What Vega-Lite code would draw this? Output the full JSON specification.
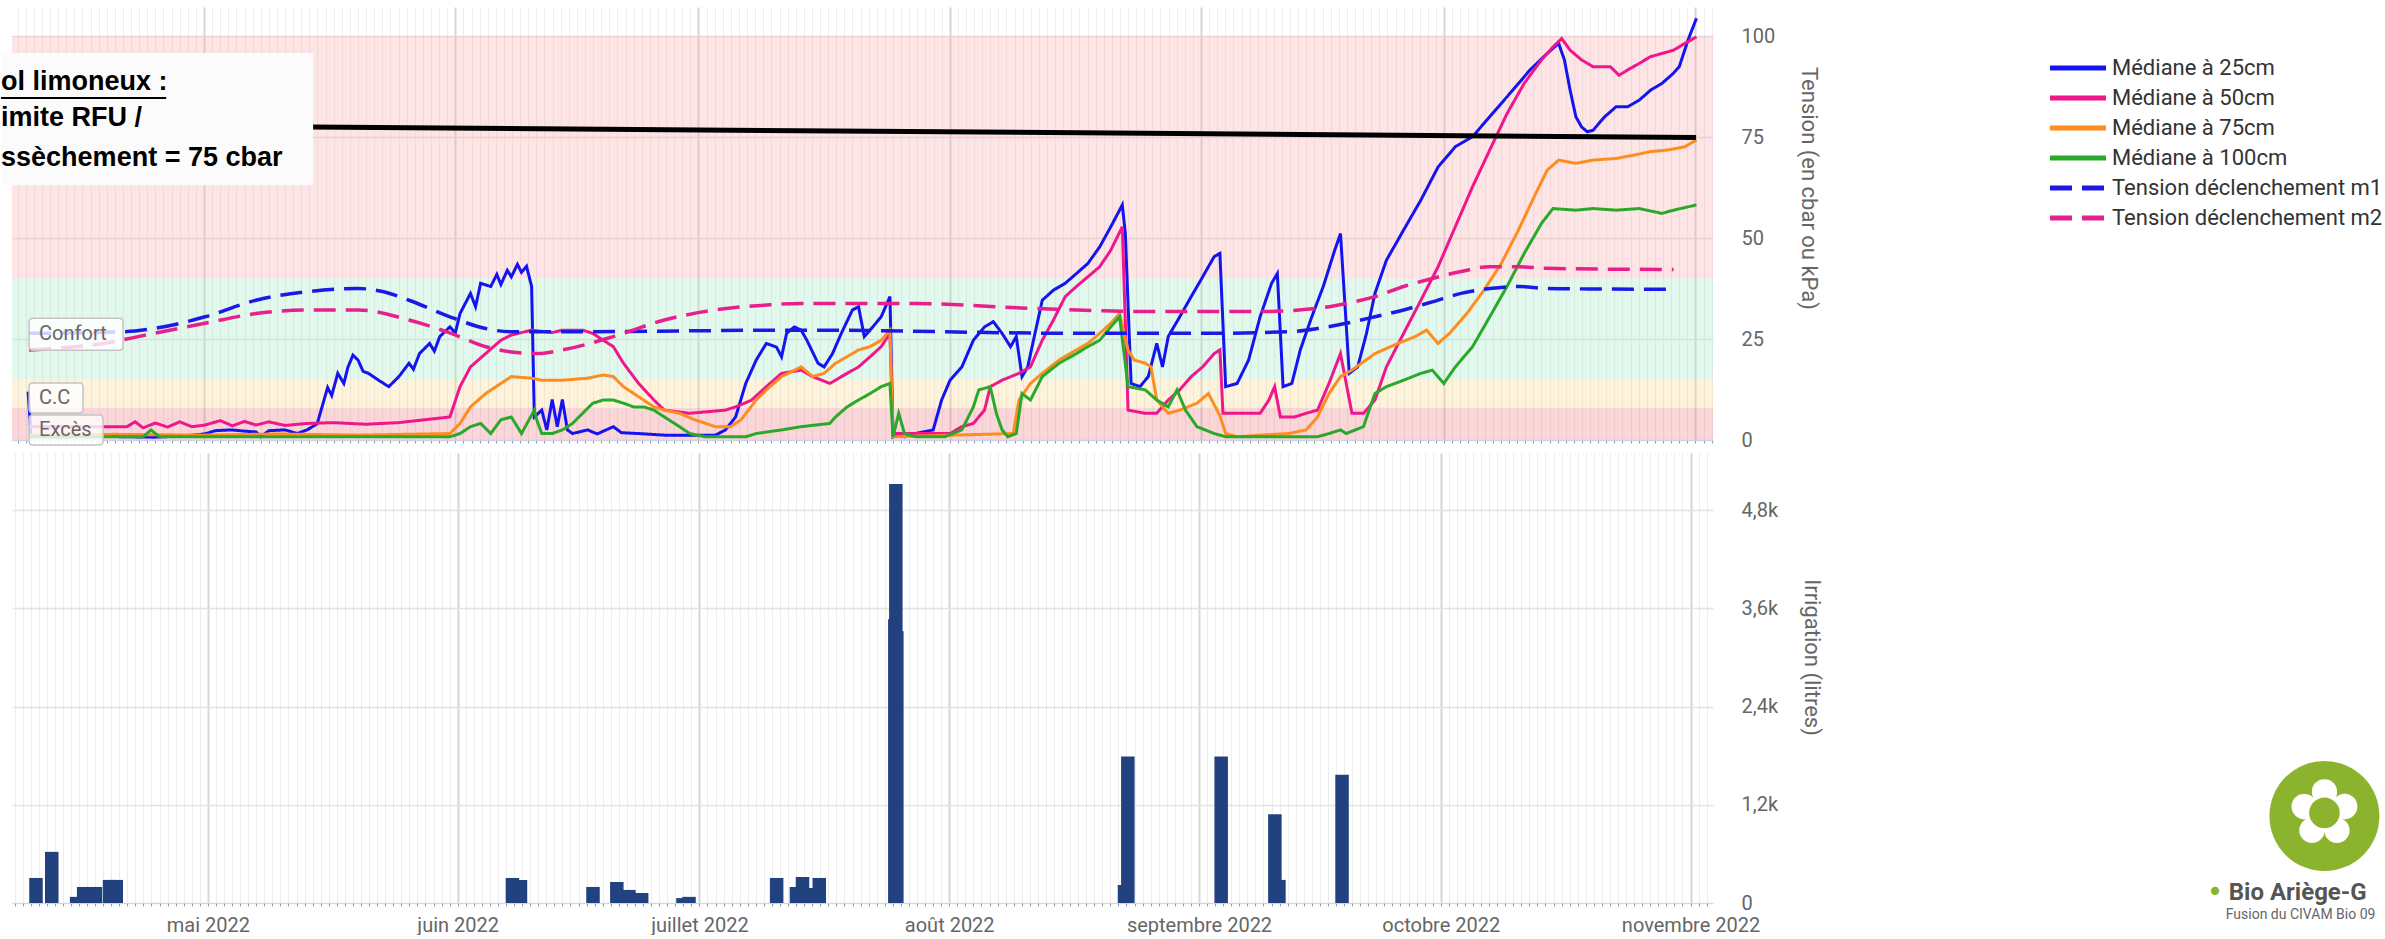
{
  "$schema": "https://vega.github.io/schema/vega-lite/v6.json",
  "padding": {"left": 0, "top": 7, "right": 0, "bottom": 0},
  "background": "white",
  "bounds": "flush",
  "spacing": 13,
  "config": {
    "view": {"stroke": null},
    "axis": {"labelFont": "Roboto", "titleFont": "Roboto", "labelColor": "#666666", "titleColor": "#666666", "titleFontWeight": "normal", "labelFontSize": 20, "titleFontSize": 22}
  },
  "datasets": {
    "med": [
      {"t":"2022-04-09T07:00","s":"Médiane à 25cm","v":12},
      {"t":"2022-04-09T16:00","s":"Médiane à 25cm","v":1},
      {"t":"2022-04-12T06:00","s":"Médiane à 25cm","v":0.8},
      {"t":"2022-04-18T13:00","s":"Médiane à 25cm","v":0.9},
      {"t":"2022-04-24T20:00","s":"Médiane à 25cm","v":0.7},
      {"t":"2022-04-28T12:00","s":"Médiane à 25cm","v":1},
      {"t":"2022-05-01T03:00","s":"Médiane à 25cm","v":1.5},
      {"t":"2022-05-02T09:00","s":"Médiane à 25cm","v":2.3},
      {"t":"2022-05-04T07:00","s":"Médiane à 25cm","v":2.5},
      {"t":"2022-05-06T00:00","s":"Médiane à 25cm","v":2.2},
      {"t":"2022-05-07T10:00","s":"Médiane à 25cm","v":2},
      {"t":"2022-05-08T00:00","s":"Médiane à 25cm","v":0.8},
      {"t":"2022-05-09T00:00","s":"Médiane à 25cm","v":2.3},
      {"t":"2022-05-11T00:00","s":"Médiane à 25cm","v":2.5},
      {"t":"2022-05-12T12:00","s":"Médiane à 25cm","v":1.6},
      {"t":"2022-05-13T17:00","s":"Médiane à 25cm","v":2.5},
      {"t":"2022-05-14T23:00","s":"Médiane à 25cm","v":4},
      {"t":"2022-05-16T06:00","s":"Médiane à 25cm","v":13},
      {"t":"2022-05-16T18:00","s":"Médiane à 25cm","v":11},
      {"t":"2022-05-17T12:00","s":"Médiane à 25cm","v":16.5},
      {"t":"2022-05-18T06:00","s":"Médiane à 25cm","v":14},
      {"t":"2022-05-18T18:00","s":"Médiane à 25cm","v":18},
      {"t":"2022-05-19T09:00","s":"Médiane à 25cm","v":21},
      {"t":"2022-05-20T00:00","s":"Médiane à 25cm","v":19.8},
      {"t":"2022-05-20T15:00","s":"Médiane à 25cm","v":17},
      {"t":"2022-05-21T07:00","s":"Médiane à 25cm","v":16.5},
      {"t":"2022-05-22T13:00","s":"Médiane à 25cm","v":14.8},
      {"t":"2022-05-23T19:00","s":"Médiane à 25cm","v":13.2},
      {"t":"2022-05-25T01:00","s":"Médiane à 25cm","v":15.7},
      {"t":"2022-05-26T07:00","s":"Médiane à 25cm","v":19},
      {"t":"2022-05-26T20:00","s":"Médiane à 25cm","v":17.5},
      {"t":"2022-05-27T14:00","s":"Médiane à 25cm","v":21.4},
      {"t":"2022-05-28T20:00","s":"Médiane à 25cm","v":23.9},
      {"t":"2022-05-29T10:00","s":"Médiane à 25cm","v":22},
      {"t":"2022-05-30T02:00","s":"Médiane à 25cm","v":25.6},
      {"t":"2022-05-31T08:00","s":"Médiane à 25cm","v":28},
      {"t":"2022-06-01T00:00","s":"Médiane à 25cm","v":26.5},
      {"t":"2022-06-01T14:00","s":"Médiane à 25cm","v":31.3},
      {"t":"2022-06-02T21:00","s":"Médiane à 25cm","v":36.3},
      {"t":"2022-06-03T12:00","s":"Médiane à 25cm","v":33},
      {"t":"2022-06-04T03:00","s":"Médiane à 25cm","v":38.8},
      {"t":"2022-06-05T09:00","s":"Médiane à 25cm","v":38},
      {"t":"2022-06-06T03:00","s":"Médiane à 25cm","v":41},
      {"t":"2022-06-06T15:00","s":"Médiane à 25cm","v":38.5},
      {"t":"2022-06-07T10:00","s":"Médiane à 25cm","v":42},
      {"t":"2022-06-07T22:00","s":"Médiane à 25cm","v":40.4},
      {"t":"2022-06-08T16:00","s":"Médiane à 25cm","v":43.5},
      {"t":"2022-06-09T04:00","s":"Médiane à 25cm","v":41.5},
      {"t":"2022-06-09T19:00","s":"Médiane à 25cm","v":43},
      {"t":"2022-06-10T10:00","s":"Médiane à 25cm","v":38},
      {"t":"2022-06-10T18:00","s":"Médiane à 25cm","v":5.7},
      {"t":"2022-06-11T16:00","s":"Médiane à 25cm","v":7.4},
      {"t":"2022-06-12T07:00","s":"Médiane à 25cm","v":2.5},
      {"t":"2022-06-12T23:00","s":"Médiane à 25cm","v":10},
      {"t":"2022-06-13T14:00","s":"Médiane à 25cm","v":3.3},
      {"t":"2022-06-14T05:00","s":"Médiane à 25cm","v":10},
      {"t":"2022-06-14T20:00","s":"Médiane à 25cm","v":2.5},
      {"t":"2022-06-15T11:00","s":"Médiane à 25cm","v":1.6},
      {"t":"2022-06-17T08:00","s":"Médiane à 25cm","v":2.5},
      {"t":"2022-06-18T12:00","s":"Médiane à 25cm","v":1.5},
      {"t":"2022-06-20T12:00","s":"Médiane à 25cm","v":3.3},
      {"t":"2022-06-21T12:00","s":"Médiane à 25cm","v":1.8},
      {"t":"2022-06-23T15:00","s":"Médiane à 25cm","v":1.6},
      {"t":"2022-06-26T19:00","s":"Médiane à 25cm","v":1.2},
      {"t":"2022-06-29T22:00","s":"Médiane à 25cm","v":1.2},
      {"t":"2022-07-03T02:00","s":"Médiane à 25cm","v":1.2},
      {"t":"2022-07-04T08:00","s":"Médiane à 25cm","v":2.5},
      {"t":"2022-07-05T14:00","s":"Médiane à 25cm","v":5.7},
      {"t":"2022-07-06T20:00","s":"Médiane à 25cm","v":14},
      {"t":"2022-07-08T03:00","s":"Médiane à 25cm","v":19.8},
      {"t":"2022-07-09T09:00","s":"Médiane à 25cm","v":23.9},
      {"t":"2022-07-10T15:00","s":"Médiane à 25cm","v":23},
      {"t":"2022-07-11T06:00","s":"Médiane à 25cm","v":20.6},
      {"t":"2022-07-11T21:00","s":"Médiane à 25cm","v":26.4},
      {"t":"2022-07-12T20:00","s":"Médiane à 25cm","v":28},
      {"t":"2022-07-13T16:00","s":"Médiane à 25cm","v":27.2},
      {"t":"2022-07-14T09:00","s":"Médiane à 25cm","v":24.7},
      {"t":"2022-07-15T18:00","s":"Médiane à 25cm","v":19},
      {"t":"2022-07-16T12:00","s":"Médiane à 25cm","v":18.1},
      {"t":"2022-07-17T13:00","s":"Médiane à 25cm","v":21.4},
      {"t":"2022-07-18T15:00","s":"Médiane à 25cm","v":26.4},
      {"t":"2022-07-20T00:00","s":"Médiane à 25cm","v":32.2},
      {"t":"2022-07-20T18:00","s":"Médiane à 25cm","v":33},
      {"t":"2022-07-21T11:00","s":"Médiane à 25cm","v":25.6},
      {"t":"2022-07-22T04:00","s":"Médiane à 25cm","v":27.2},
      {"t":"2022-07-23T13:00","s":"Médiane à 25cm","v":30.5},
      {"t":"2022-07-24T15:00","s":"Médiane à 25cm","v":35.5},
      {"t":"2022-07-25T00:00","s":"Médiane à 25cm","v":0.8},
      {"t":"2022-07-25T17:00","s":"Médiane à 25cm","v":1.6},
      {"t":"2022-07-26T10:00","s":"Médiane à 25cm","v":0.8},
      {"t":"2022-07-27T19:00","s":"Médiane à 25cm","v":1.6},
      {"t":"2022-07-29T23:00","s":"Médiane à 25cm","v":2.5},
      {"t":"2022-07-31T00:00","s":"Médiane à 25cm","v":9.9},
      {"t":"2022-08-01T01:00","s":"Médiane à 25cm","v":14.8},
      {"t":"2022-08-02T12:00","s":"Médiane à 25cm","v":18.1},
      {"t":"2022-08-03T22:00","s":"Médiane à 25cm","v":24.7},
      {"t":"2022-08-05T07:00","s":"Médiane à 25cm","v":28},
      {"t":"2022-08-06T09:00","s":"Médiane à 25cm","v":29.3},
      {"t":"2022-08-07T11:00","s":"Médiane à 25cm","v":26.4},
      {"t":"2022-08-08T12:00","s":"Médiane à 25cm","v":23.1},
      {"t":"2022-08-09T05:00","s":"Médiane à 25cm","v":25.6},
      {"t":"2022-08-09T22:00","s":"Médiane à 25cm","v":15.7},
      {"t":"2022-08-10T15:00","s":"Médiane à 25cm","v":18.1},
      {"t":"2022-08-11T08:00","s":"Médiane à 25cm","v":24.7},
      {"t":"2022-08-12T10:00","s":"Médiane à 25cm","v":34.6},
      {"t":"2022-08-13T19:00","s":"Médiane à 25cm","v":37.1},
      {"t":"2022-08-15T06:00","s":"Médiane à 25cm","v":38.8},
      {"t":"2022-08-16T15:00","s":"Médiane à 25cm","v":41.2},
      {"t":"2022-08-18T01:00","s":"Médiane à 25cm","v":43.7},
      {"t":"2022-08-19T12:00","s":"Médiane à 25cm","v":47.8},
      {"t":"2022-08-20T21:00","s":"Médiane à 25cm","v":52.8},
      {"t":"2022-08-22T07:00","s":"Médiane à 25cm","v":58.2},
      {"t":"2022-08-22T16:00","s":"Médiane à 25cm","v":51.1},
      {"t":"2022-08-23T09:00","s":"Médiane à 25cm","v":14},
      {"t":"2022-08-24T11:00","s":"Médiane à 25cm","v":13.2},
      {"t":"2022-08-25T12:00","s":"Médiane à 25cm","v":15.7},
      {"t":"2022-08-26T13:00","s":"Médiane à 25cm","v":23.9},
      {"t":"2022-08-27T06:00","s":"Médiane à 25cm","v":18.1},
      {"t":"2022-08-27T23:00","s":"Médiane à 25cm","v":25.6},
      {"t":"2022-08-29T09:00","s":"Médiane à 25cm","v":30.5},
      {"t":"2022-08-30T19:00","s":"Médiane à 25cm","v":35.5},
      {"t":"2022-09-01T05:00","s":"Médiane à 25cm","v":40.4},
      {"t":"2022-09-02T15:00","s":"Médiane à 25cm","v":45.4},
      {"t":"2022-09-03T08:00","s":"Médiane à 25cm","v":46.2},
      {"t":"2022-09-04T01:00","s":"Médiane à 25cm","v":13.2},
      {"t":"2022-09-05T11:00","s":"Médiane à 25cm","v":14},
      {"t":"2022-09-06T21:00","s":"Médiane à 25cm","v":19.8},
      {"t":"2022-09-08T07:00","s":"Médiane à 25cm","v":30.5},
      {"t":"2022-09-09T17:00","s":"Médiane à 25cm","v":38.8},
      {"t":"2022-09-10T10:00","s":"Médiane à 25cm","v":41.2},
      {"t":"2022-09-11T03:00","s":"Médiane à 25cm","v":13.2},
      {"t":"2022-09-12T05:00","s":"Médiane à 25cm","v":14},
      {"t":"2022-09-13T06:00","s":"Médiane à 25cm","v":22.3},
      {"t":"2022-09-14T16:00","s":"Médiane à 25cm","v":30.5},
      {"t":"2022-09-16T02:00","s":"Médiane à 25cm","v":38},
      {"t":"2022-09-17T12:00","s":"Médiane à 25cm","v":47},
      {"t":"2022-09-18T05:00","s":"Médiane à 25cm","v":51.1},
      {"t":"2022-09-19T07:00","s":"Médiane à 25cm","v":16.5},
      {"t":"2022-09-20T08:00","s":"Médiane à 25cm","v":18.1},
      {"t":"2022-09-21T10:00","s":"Médiane à 25cm","v":26.4},
      {"t":"2022-09-22T11:00","s":"Médiane à 25cm","v":36.3},
      {"t":"2022-09-23T21:00","s":"Médiane à 25cm","v":44.5},
      {"t":"2022-09-26T00:00","s":"Médiane à 25cm","v":52},
      {"t":"2022-09-28T03:00","s":"Médiane à 25cm","v":59.4},
      {"t":"2022-09-30T06:00","s":"Médiane à 25cm","v":67.6},
      {"t":"2022-10-02T09:00","s":"Médiane à 25cm","v":72.6},
      {"t":"2022-10-04T12:00","s":"Médiane à 25cm","v":75.1},
      {"t":"2022-10-05T22:00","s":"Médiane à 25cm","v":78.4},
      {"t":"2022-10-07T08:00","s":"Médiane à 25cm","v":81.7},
      {"t":"2022-10-09T11:00","s":"Médiane à 25cm","v":86.6},
      {"t":"2022-10-11T14:00","s":"Médiane à 25cm","v":91.6},
      {"t":"2022-10-13T17:00","s":"Médiane à 25cm","v":95.7},
      {"t":"2022-10-15T03:00","s":"Médiane à 25cm","v":98.2},
      {"t":"2022-10-15T20:00","s":"Médiane à 25cm","v":94.1},
      {"t":"2022-10-16T13:00","s":"Médiane à 25cm","v":86.6},
      {"t":"2022-10-17T06:00","s":"Médiane à 25cm","v":80},
      {"t":"2022-10-17T23:00","s":"Médiane à 25cm","v":77.5},
      {"t":"2022-10-18T16:00","s":"Médiane à 25cm","v":76.3},
      {"t":"2022-10-19T09:00","s":"Médiane à 25cm","v":76.7},
      {"t":"2022-10-20T19:00","s":"Médiane à 25cm","v":80},
      {"t":"2022-10-22T05:00","s":"Médiane à 25cm","v":82.5},
      {"t":"2022-10-23T15:00","s":"Médiane à 25cm","v":82.5},
      {"t":"2022-10-25T01:00","s":"Médiane à 25cm","v":84.1},
      {"t":"2022-10-26T11:00","s":"Médiane à 25cm","v":86.6},
      {"t":"2022-10-27T21:00","s":"Médiane à 25cm","v":88.3},
      {"t":"2022-10-29T07:00","s":"Médiane à 25cm","v":90.8},
      {"t":"2022-10-30T00:00","s":"Médiane à 25cm","v":92.4},
      {"t":"2022-10-31T02:00","s":"Médiane à 25cm","v":99},
      {"t":"2022-11-01T03:00","s":"Médiane à 25cm","v":104.4},

      {"t":"2022-04-09T10:00","s":"Médiane à 50cm","v":3.3},
      {"t":"2022-04-18T13:00","s":"Médiane à 50cm","v":3.3},
      {"t":"2022-04-21T12:00","s":"Médiane à 50cm","v":3.3},
      {"t":"2022-04-22T12:00","s":"Médiane à 50cm","v":4.5},
      {"t":"2022-04-23T12:00","s":"Médiane à 50cm","v":3},
      {"t":"2022-04-25T00:00","s":"Médiane à 50cm","v":4.2},
      {"t":"2022-04-26T12:00","s":"Médiane à 50cm","v":3.2},
      {"t":"2022-04-28T00:00","s":"Médiane à 50cm","v":4.5},
      {"t":"2022-04-29T12:00","s":"Médiane à 50cm","v":3.3},
      {"t":"2022-05-01T03:00","s":"Médiane à 50cm","v":3.7},
      {"t":"2022-05-03T00:00","s":"Médiane à 50cm","v":4.8},
      {"t":"2022-05-04T12:00","s":"Médiane à 50cm","v":3.5},
      {"t":"2022-05-06T00:00","s":"Médiane à 50cm","v":4.6},
      {"t":"2022-05-07T10:00","s":"Médiane à 50cm","v":3.7},
      {"t":"2022-05-09T00:00","s":"Médiane à 50cm","v":4.5},
      {"t":"2022-05-11T00:00","s":"Médiane à 50cm","v":3.6},
      {"t":"2022-05-13T17:00","s":"Médiane à 50cm","v":4.1},
      {"t":"2022-05-17T00:00","s":"Médiane à 50cm","v":4.3},
      {"t":"2022-05-21T00:00","s":"Médiane à 50cm","v":3.9},
      {"t":"2022-05-25T00:00","s":"Médiane à 50cm","v":4.3},
      {"t":"2022-05-31T08:00","s":"Médiane à 50cm","v":5.7},
      {"t":"2022-06-01T14:00","s":"Médiane à 50cm","v":13.2},
      {"t":"2022-06-02T21:00","s":"Médiane à 50cm","v":18.1},
      {"t":"2022-06-04T18:00","s":"Médiane à 50cm","v":21.4},
      {"t":"2022-06-06T15:00","s":"Médiane à 50cm","v":24.7},
      {"t":"2022-06-07T22:00","s":"Médiane à 50cm","v":26},
      {"t":"2022-06-10T10:00","s":"Médiane à 50cm","v":27.2},
      {"t":"2022-06-12T23:00","s":"Médiane à 50cm","v":26.6},
      {"t":"2022-06-14T05:00","s":"Médiane à 50cm","v":27.2},
      {"t":"2022-06-16T17:00","s":"Médiane à 50cm","v":27.2},
      {"t":"2022-06-17T23:00","s":"Médiane à 50cm","v":26.4},
      {"t":"2022-06-19T06:00","s":"Médiane à 50cm","v":24.7},
      {"t":"2022-06-20T12:00","s":"Médiane à 50cm","v":23.1},
      {"t":"2022-06-21T18:00","s":"Médiane à 50cm","v":19},
      {"t":"2022-06-23T15:00","s":"Médiane à 50cm","v":14},
      {"t":"2022-06-25T12:00","s":"Médiane à 50cm","v":9.9},
      {"t":"2022-06-26T19:00","s":"Médiane à 50cm","v":7.4},
      {"t":"2022-06-29T22:00","s":"Médiane à 50cm","v":6.6},
      {"t":"2022-07-04T08:00","s":"Médiane à 50cm","v":7.4},
      {"t":"2022-07-05T14:00","s":"Médiane à 50cm","v":8.2},
      {"t":"2022-07-07T12:00","s":"Médiane à 50cm","v":9.8},
      {"t":"2022-07-09T09:00","s":"Médiane à 50cm","v":13.2},
      {"t":"2022-07-11T06:00","s":"Médiane à 50cm","v":16.5},
      {"t":"2022-07-13T16:00","s":"Médiane à 50cm","v":17.3},
      {"t":"2022-07-15T02:00","s":"Médiane à 50cm","v":15.7},
      {"t":"2022-07-17T05:00","s":"Médiane à 50cm","v":14},
      {"t":"2022-07-19T08:00","s":"Médiane à 50cm","v":16.5},
      {"t":"2022-07-20T18:00","s":"Médiane à 50cm","v":18.1},
      {"t":"2022-07-22T04:00","s":"Médiane à 50cm","v":20.6},
      {"t":"2022-07-23T13:00","s":"Médiane à 50cm","v":23.1},
      {"t":"2022-07-24T15:00","s":"Médiane à 50cm","v":26.4},
      {"t":"2022-07-25T00:00","s":"Médiane à 50cm","v":1.6},
      {"t":"2022-08-01T01:00","s":"Médiane à 50cm","v":1.6},
      {"t":"2022-08-02T12:00","s":"Médiane à 50cm","v":3.3},
      {"t":"2022-08-03T22:00","s":"Médiane à 50cm","v":4.1},
      {"t":"2022-08-05T07:00","s":"Médiane à 50cm","v":7.4},
      {"t":"2022-08-06T00:00","s":"Médiane à 50cm","v":13.2},
      {"t":"2022-08-07T11:00","s":"Médiane à 50cm","v":14.8},
      {"t":"2022-08-09T13:00","s":"Médiane à 50cm","v":16.5},
      {"t":"2022-08-10T23:00","s":"Médiane à 50cm","v":18.1},
      {"t":"2022-08-12T10:00","s":"Médiane à 50cm","v":24.7},
      {"t":"2022-08-13T19:00","s":"Médiane à 50cm","v":29.7},
      {"t":"2022-08-15T06:00","s":"Médiane à 50cm","v":35.5},
      {"t":"2022-08-16T15:00","s":"Médiane à 50cm","v":38},
      {"t":"2022-08-18T01:00","s":"Médiane à 50cm","v":40.4},
      {"t":"2022-08-19T12:00","s":"Médiane à 50cm","v":42.9},
      {"t":"2022-08-20T21:00","s":"Médiane à 50cm","v":47},
      {"t":"2022-08-22T07:00","s":"Médiane à 50cm","v":52.8},
      {"t":"2022-08-23T00:00","s":"Médiane à 50cm","v":7.4},
      {"t":"2022-08-25T03:00","s":"Médiane à 50cm","v":6.6},
      {"t":"2022-08-26T13:00","s":"Médiane à 50cm","v":6.6},
      {"t":"2022-08-27T23:00","s":"Médiane à 50cm","v":9.9},
      {"t":"2022-08-29T09:00","s":"Médiane à 50cm","v":12.4},
      {"t":"2022-08-30T19:00","s":"Médiane à 50cm","v":15.7},
      {"t":"2022-09-01T05:00","s":"Médiane à 50cm","v":18.1},
      {"t":"2022-09-02T15:00","s":"Médiane à 50cm","v":21.4},
      {"t":"2022-09-03T08:00","s":"Médiane à 50cm","v":22.3},
      {"t":"2022-09-03T17:00","s":"Médiane à 50cm","v":6.6},
      {"t":"2022-09-08T07:00","s":"Médiane à 50cm","v":6.6},
      {"t":"2022-09-09T09:00","s":"Médiane à 50cm","v":9.9},
      {"t":"2022-09-10T02:00","s":"Médiane à 50cm","v":13.2},
      {"t":"2022-09-10T19:00","s":"Médiane à 50cm","v":5.7},
      {"t":"2022-09-12T13:00","s":"Médiane à 50cm","v":5.7},
      {"t":"2022-09-13T23:00","s":"Médiane à 50cm","v":6.6},
      {"t":"2022-09-15T09:00","s":"Médiane à 50cm","v":7.4},
      {"t":"2022-09-16T19:00","s":"Médiane à 50cm","v":14},
      {"t":"2022-09-18T05:00","s":"Médiane à 50cm","v":21.4},
      {"t":"2022-09-19T15:00","s":"Médiane à 50cm","v":6.6},
      {"t":"2022-09-21T01:00","s":"Médiane à 50cm","v":6.6},
      {"t":"2022-09-22T11:00","s":"Médiane à 50cm","v":9.9},
      {"t":"2022-09-23T21:00","s":"Médiane à 50cm","v":18.1},
      {"t":"2022-09-26T00:00","s":"Médiane à 50cm","v":26.4},
      {"t":"2022-09-28T03:00","s":"Médiane à 50cm","v":34.6},
      {"t":"2022-09-30T06:00","s":"Médiane à 50cm","v":42.9},
      {"t":"2022-10-02T09:00","s":"Médiane à 50cm","v":52.8},
      {"t":"2022-10-04T12:00","s":"Médiane à 50cm","v":62.7},
      {"t":"2022-10-06T15:00","s":"Médiane à 50cm","v":71.8},
      {"t":"2022-10-08T18:00","s":"Médiane à 50cm","v":80.8},
      {"t":"2022-10-10T21:00","s":"Médiane à 50cm","v":88.3},
      {"t":"2022-10-13T00:00","s":"Médiane à 50cm","v":94.1},
      {"t":"2022-10-14T10:00","s":"Médiane à 50cm","v":97.3},
      {"t":"2022-10-15T12:00","s":"Médiane à 50cm","v":99.4},
      {"t":"2022-10-16T13:00","s":"Médiane à 50cm","v":96.5},
      {"t":"2022-10-17T23:00","s":"Médiane à 50cm","v":94.1},
      {"t":"2022-10-19T09:00","s":"Médiane à 50cm","v":92.4},
      {"t":"2022-10-21T12:00","s":"Médiane à 50cm","v":92.4},
      {"t":"2022-10-22T14:00","s":"Médiane à 50cm","v":90.3},
      {"t":"2022-10-23T15:00","s":"Médiane à 50cm","v":91.6},
      {"t":"2022-10-25T01:00","s":"Médiane à 50cm","v":93.2},
      {"t":"2022-10-26T11:00","s":"Médiane à 50cm","v":94.9},
      {"t":"2022-10-27T21:00","s":"Médiane à 50cm","v":95.7},
      {"t":"2022-10-29T07:00","s":"Médiane à 50cm","v":96.5},
      {"t":"2022-10-30T17:00","s":"Médiane à 50cm","v":98.2},
      {"t":"2022-11-01T03:00","s":"Médiane à 50cm","v":99.8},

      {"t":"2022-04-09T10:00","s":"Médiane à 75cm","v":1.2},
      {"t":"2022-04-20T00:00","s":"Médiane à 75cm","v":1.4},
      {"t":"2022-05-01T00:00","s":"Médiane à 75cm","v":1.2},
      {"t":"2022-05-10T00:00","s":"Médiane à 75cm","v":1.5},
      {"t":"2022-05-20T00:00","s":"Médiane à 75cm","v":1.2},
      {"t":"2022-05-31T08:00","s":"Médiane à 75cm","v":1.6},
      {"t":"2022-06-01T14:00","s":"Médiane à 75cm","v":4.1},
      {"t":"2022-06-02T21:00","s":"Médiane à 75cm","v":8.2},
      {"t":"2022-06-04T18:00","s":"Médiane à 75cm","v":11.5},
      {"t":"2022-06-06T15:00","s":"Médiane à 75cm","v":14},
      {"t":"2022-06-07T22:00","s":"Médiane à 75cm","v":15.7},
      {"t":"2022-06-10T10:00","s":"Médiane à 75cm","v":15.3},
      {"t":"2022-06-11T16:00","s":"Médiane à 75cm","v":14.8},
      {"t":"2022-06-14T05:00","s":"Médiane à 75cm","v":14.8},
      {"t":"2022-06-17T08:00","s":"Médiane à 75cm","v":15.3},
      {"t":"2022-06-19T06:00","s":"Médiane à 75cm","v":16.1},
      {"t":"2022-06-20T12:00","s":"Médiane à 75cm","v":15.7},
      {"t":"2022-06-21T18:00","s":"Médiane à 75cm","v":13.2},
      {"t":"2022-06-23T15:00","s":"Médiane à 75cm","v":10.7},
      {"t":"2022-06-25T12:00","s":"Médiane à 75cm","v":8.2},
      {"t":"2022-06-26T19:00","s":"Médiane à 75cm","v":7.4},
      {"t":"2022-06-28T16:00","s":"Médiane à 75cm","v":6.6},
      {"t":"2022-06-30T13:00","s":"Médiane à 75cm","v":5},
      {"t":"2022-07-03T02:00","s":"Médiane à 75cm","v":3.3},
      {"t":"2022-07-04T23:00","s":"Médiane à 75cm","v":3.3},
      {"t":"2022-07-06T06:00","s":"Médiane à 75cm","v":5},
      {"t":"2022-07-08T03:00","s":"Médiane à 75cm","v":9.9},
      {"t":"2022-07-09T09:00","s":"Médiane à 75cm","v":12.4},
      {"t":"2022-07-11T06:00","s":"Médiane à 75cm","v":15.7},
      {"t":"2022-07-13T16:00","s":"Médiane à 75cm","v":18.1},
      {"t":"2022-07-15T02:00","s":"Médiane à 75cm","v":15.7},
      {"t":"2022-07-16T12:00","s":"Médiane à 75cm","v":16.5},
      {"t":"2022-07-17T22:00","s":"Médiane à 75cm","v":19},
      {"t":"2022-07-19T08:00","s":"Médiane à 75cm","v":20.6},
      {"t":"2022-07-20T18:00","s":"Médiane à 75cm","v":22.3},
      {"t":"2022-07-22T04:00","s":"Médiane à 75cm","v":23.1},
      {"t":"2022-07-23T13:00","s":"Médiane à 75cm","v":24.7},
      {"t":"2022-07-24T15:00","s":"Médiane à 75cm","v":27.2},
      {"t":"2022-07-25T00:00","s":"Médiane à 75cm","v":0.8},
      {"t":"2022-08-08T20:00","s":"Médiane à 75cm","v":1.6},
      {"t":"2022-08-09T13:00","s":"Médiane à 75cm","v":9.9},
      {"t":"2022-08-10T23:00","s":"Médiane à 75cm","v":14},
      {"t":"2022-08-12T10:00","s":"Médiane à 75cm","v":16.5},
      {"t":"2022-08-14T12:00","s":"Médiane à 75cm","v":19.8},
      {"t":"2022-08-16T15:00","s":"Médiane à 75cm","v":22.3},
      {"t":"2022-08-18T01:00","s":"Médiane à 75cm","v":23.9},
      {"t":"2022-08-19T12:00","s":"Médiane à 75cm","v":26.4},
      {"t":"2022-08-20T21:00","s":"Médiane à 75cm","v":28.9},
      {"t":"2022-08-21T23:00","s":"Médiane à 75cm","v":31.3},
      {"t":"2022-08-23T00:00","s":"Médiane à 75cm","v":22.3},
      {"t":"2022-08-23T18:00","s":"Médiane à 75cm","v":19.8},
      {"t":"2022-08-25T03:00","s":"Médiane à 75cm","v":19},
      {"t":"2022-08-25T20:00","s":"Médiane à 75cm","v":18.1},
      {"t":"2022-08-26T13:00","s":"Médiane à 75cm","v":9.9},
      {"t":"2022-08-27T23:00","s":"Médiane à 75cm","v":6.6},
      {"t":"2022-08-29T09:00","s":"Médiane à 75cm","v":7.4},
      {"t":"2022-08-31T12:00","s":"Médiane à 75cm","v":9.1},
      {"t":"2022-09-01T22:00","s":"Médiane à 75cm","v":11.5},
      {"t":"2022-09-03T08:00","s":"Médiane à 75cm","v":6},
      {"t":"2022-09-04T01:00","s":"Médiane à 75cm","v":1.6},
      {"t":"2022-09-05T11:00","s":"Médiane à 75cm","v":0.8},
      {"t":"2022-09-08T07:00","s":"Médiane à 75cm","v":1.2},
      {"t":"2022-09-11T20:00","s":"Médiane à 75cm","v":1.6},
      {"t":"2022-09-13T23:00","s":"Médiane à 75cm","v":2.5},
      {"t":"2022-09-15T09:00","s":"Médiane à 75cm","v":5.7},
      {"t":"2022-09-16T19:00","s":"Médiane à 75cm","v":11.5},
      {"t":"2022-09-18T05:00","s":"Médiane à 75cm","v":15.7},
      {"t":"2022-09-19T15:00","s":"Médiane à 75cm","v":17.3},
      {"t":"2022-09-22T11:00","s":"Médiane à 75cm","v":21.4},
      {"t":"2022-09-25T07:00","s":"Médiane à 75cm","v":23.9},
      {"t":"2022-09-27T10:00","s":"Médiane à 75cm","v":25.6},
      {"t":"2022-09-28T20:00","s":"Médiane à 75cm","v":27.2},
      {"t":"2022-09-30T06:00","s":"Médiane à 75cm","v":23.9},
      {"t":"2022-10-01T16:00","s":"Médiane à 75cm","v":26.4},
      {"t":"2022-10-03T19:00","s":"Médiane à 75cm","v":31.3},
      {"t":"2022-10-05T22:00","s":"Médiane à 75cm","v":37.1},
      {"t":"2022-10-08T01:00","s":"Médiane à 75cm","v":43.7},
      {"t":"2022-10-10T04:00","s":"Médiane à 75cm","v":52},
      {"t":"2022-10-12T07:00","s":"Médiane à 75cm","v":61},
      {"t":"2022-10-13T17:00","s":"Médiane à 75cm","v":66.8},
      {"t":"2022-10-15T03:00","s":"Médiane à 75cm","v":69.3},
      {"t":"2022-10-17T06:00","s":"Médiane à 75cm","v":68.5},
      {"t":"2022-10-19T09:00","s":"Médiane à 75cm","v":69.3},
      {"t":"2022-10-22T05:00","s":"Médiane à 75cm","v":69.7},
      {"t":"2022-10-24T08:00","s":"Médiane à 75cm","v":70.5},
      {"t":"2022-10-26T11:00","s":"Médiane à 75cm","v":71.4},
      {"t":"2022-10-28T14:00","s":"Médiane à 75cm","v":71.8},
      {"t":"2022-10-30T17:00","s":"Médiane à 75cm","v":72.6},
      {"t":"2022-11-01T03:00","s":"Médiane à 75cm","v":74.3},

      {"t":"2022-04-09T10:00","s":"Médiane à 100cm","v":0.8},
      {"t":"2022-04-23T12:00","s":"Médiane à 100cm","v":0.8},
      {"t":"2022-04-24T11:00","s":"Médiane à 100cm","v":2.5},
      {"t":"2022-04-25T12:00","s":"Médiane à 100cm","v":0.8},
      {"t":"2022-05-31T08:00","s":"Médiane à 100cm","v":0.8},
      {"t":"2022-06-01T14:00","s":"Médiane à 100cm","v":1.6},
      {"t":"2022-06-02T21:00","s":"Médiane à 100cm","v":3.3},
      {"t":"2022-06-04T03:00","s":"Médiane à 100cm","v":4.1},
      {"t":"2022-06-05T09:00","s":"Médiane à 100cm","v":1.6},
      {"t":"2022-06-06T15:00","s":"Médiane à 100cm","v":5},
      {"t":"2022-06-07T22:00","s":"Médiane à 100cm","v":5.7},
      {"t":"2022-06-09T04:00","s":"Médiane à 100cm","v":1.6},
      {"t":"2022-06-10T18:00","s":"Médiane à 100cm","v":7.4},
      {"t":"2022-06-11T01:00","s":"Médiane à 100cm","v":5},
      {"t":"2022-06-11T16:00","s":"Médiane à 100cm","v":1.6},
      {"t":"2022-06-12T23:00","s":"Médiane à 100cm","v":1.6},
      {"t":"2022-06-14T05:00","s":"Médiane à 100cm","v":2.5},
      {"t":"2022-06-15T11:00","s":"Médiane à 100cm","v":4.1},
      {"t":"2022-06-16T17:00","s":"Médiane à 100cm","v":6.6},
      {"t":"2022-06-17T23:00","s":"Médiane à 100cm","v":9.1},
      {"t":"2022-06-19T06:00","s":"Médiane à 100cm","v":9.9},
      {"t":"2022-06-20T12:00","s":"Médiane à 100cm","v":9.9},
      {"t":"2022-06-21T18:00","s":"Médiane à 100cm","v":9.1},
      {"t":"2022-06-23T00:00","s":"Médiane à 100cm","v":8.2},
      {"t":"2022-06-24T06:00","s":"Médiane à 100cm","v":8.2},
      {"t":"2022-06-25T12:00","s":"Médiane à 100cm","v":7.4},
      {"t":"2022-06-26T19:00","s":"Médiane à 100cm","v":5.7},
      {"t":"2022-06-28T16:00","s":"Médiane à 100cm","v":3.3},
      {"t":"2022-06-29T22:00","s":"Médiane à 100cm","v":1.6},
      {"t":"2022-07-01T20:00","s":"Médiane à 100cm","v":0.8},
      {"t":"2022-07-06T20:00","s":"Médiane à 100cm","v":0.8},
      {"t":"2022-07-08T03:00","s":"Médiane à 100cm","v":1.6},
      {"t":"2022-07-11T06:00","s":"Médiane à 100cm","v":2.5},
      {"t":"2022-07-13T16:00","s":"Médiane à 100cm","v":3.3},
      {"t":"2022-07-17T05:00","s":"Médiane à 100cm","v":4.1},
      {"t":"2022-07-17T22:00","s":"Médiane à 100cm","v":5.7},
      {"t":"2022-07-19T08:00","s":"Médiane à 100cm","v":8.2},
      {"t":"2022-07-20T18:00","s":"Médiane à 100cm","v":9.9},
      {"t":"2022-07-22T04:00","s":"Médiane à 100cm","v":11.5},
      {"t":"2022-07-23T13:00","s":"Médiane à 100cm","v":13.2},
      {"t":"2022-07-24T15:00","s":"Médiane à 100cm","v":14},
      {"t":"2022-07-25T00:00","s":"Médiane à 100cm","v":0.8},
      {"t":"2022-07-25T17:00","s":"Médiane à 100cm","v":6.6},
      {"t":"2022-07-26T10:00","s":"Médiane à 100cm","v":1.6},
      {"t":"2022-07-27T19:00","s":"Médiane à 100cm","v":0.8},
      {"t":"2022-07-31T09:00","s":"Médiane à 100cm","v":0.8},
      {"t":"2022-08-02T12:00","s":"Médiane à 100cm","v":2.5},
      {"t":"2022-08-03T22:00","s":"Médiane à 100cm","v":8.2},
      {"t":"2022-08-04T14:00","s":"Médiane à 100cm","v":12.4},
      {"t":"2022-08-06T00:00","s":"Médiane à 100cm","v":13.2},
      {"t":"2022-08-06T18:00","s":"Médiane à 100cm","v":6.6},
      {"t":"2022-08-07T11:00","s":"Médiane à 100cm","v":2.5},
      {"t":"2022-08-08T04:00","s":"Médiane à 100cm","v":0.8},
      {"t":"2022-08-09T05:00","s":"Médiane à 100cm","v":1.6},
      {"t":"2022-08-09T22:00","s":"Médiane à 100cm","v":11.5},
      {"t":"2022-08-10T23:00","s":"Médiane à 100cm","v":9.9},
      {"t":"2022-08-12T10:00","s":"Médiane à 100cm","v":15.7},
      {"t":"2022-08-14T12:00","s":"Médiane à 100cm","v":19},
      {"t":"2022-08-16T15:00","s":"Médiane à 100cm","v":21.4},
      {"t":"2022-08-18T01:00","s":"Médiane à 100cm","v":23.1},
      {"t":"2022-08-19T12:00","s":"Médiane à 100cm","v":24.7},
      {"t":"2022-08-20T21:00","s":"Médiane à 100cm","v":28},
      {"t":"2022-08-21T23:00","s":"Médiane à 100cm","v":30.5},
      {"t":"2022-08-23T00:00","s":"Médiane à 100cm","v":13.2},
      {"t":"2022-08-25T03:00","s":"Médiane à 100cm","v":12.4},
      {"t":"2022-08-26T13:00","s":"Médiane à 100cm","v":9.9},
      {"t":"2022-08-27T23:00","s":"Médiane à 100cm","v":8.2},
      {"t":"2022-08-29T01:00","s":"Médiane à 100cm","v":12.4},
      {"t":"2022-08-30T02:00","s":"Médiane à 100cm","v":7.4},
      {"t":"2022-08-31T12:00","s":"Médiane à 100cm","v":3.3},
      {"t":"2022-09-02T15:00","s":"Médiane à 100cm","v":1.6},
      {"t":"2022-09-04T01:00","s":"Médiane à 100cm","v":0.8},
      {"t":"2022-09-15T09:00","s":"Médiane à 100cm","v":0.8},
      {"t":"2022-09-16T19:00","s":"Médiane à 100cm","v":1.6},
      {"t":"2022-09-18T05:00","s":"Médiane à 100cm","v":2.5},
      {"t":"2022-09-18T22:00","s":"Médiane à 100cm","v":1.6},
      {"t":"2022-09-21T01:00","s":"Médiane à 100cm","v":3.3},
      {"t":"2022-09-22T11:00","s":"Médiane à 100cm","v":11.5},
      {"t":"2022-09-23T21:00","s":"Médiane à 100cm","v":13.2},
      {"t":"2022-09-26T00:00","s":"Médiane à 100cm","v":14.8},
      {"t":"2022-09-28T03:00","s":"Médiane à 100cm","v":16.5},
      {"t":"2022-09-29T13:00","s":"Médiane à 100cm","v":17.3},
      {"t":"2022-09-30T23:00","s":"Médiane à 100cm","v":14},
      {"t":"2022-10-02T09:00","s":"Médiane à 100cm","v":18.1},
      {"t":"2022-10-04T12:00","s":"Médiane à 100cm","v":23.1},
      {"t":"2022-10-06T15:00","s":"Médiane à 100cm","v":30.5},
      {"t":"2022-10-08T18:00","s":"Médiane à 100cm","v":38},
      {"t":"2022-10-10T21:00","s":"Médiane à 100cm","v":46.2},
      {"t":"2022-10-13T00:00","s":"Médiane à 100cm","v":53.6},
      {"t":"2022-10-14T10:00","s":"Médiane à 100cm","v":57.3},
      {"t":"2022-10-17T06:00","s":"Médiane à 100cm","v":56.9},
      {"t":"2022-10-19T09:00","s":"Médiane à 100cm","v":57.3},
      {"t":"2022-10-22T05:00","s":"Médiane à 100cm","v":56.9},
      {"t":"2022-10-25T01:00","s":"Médiane à 100cm","v":57.3},
      {"t":"2022-10-27T21:00","s":"Médiane à 100cm","v":56.1},
      {"t":"2022-10-29T07:00","s":"Médiane à 100cm","v":56.9},
      {"t":"2022-11-01T03:00","s":"Médiane à 100cm","v":58.2}
    ],
    "decl": [
      {"t":"2022-04-09T10:00","s":"Tension déclenchement m1","v":26.4},
      {"t":"2022-04-21T02:00","s":"Tension déclenchement m1","v":26.8},
      {"t":"2022-04-24T20:00","s":"Tension déclenchement m1","v":27.6},
      {"t":"2022-05-01T03:00","s":"Tension déclenchement m1","v":30.5},
      {"t":"2022-05-07T10:00","s":"Tension déclenchement m1","v":34.6},
      {"t":"2022-05-13T17:00","s":"Tension déclenchement m1","v":36.7},
      {"t":"2022-05-20T00:00","s":"Tension déclenchement m1","v":37.5},
      {"t":"2022-05-23T04:00","s":"Tension déclenchement m1","v":36.7},
      {"t":"2022-05-26T07:00","s":"Tension déclenchement m1","v":34.6},
      {"t":"2022-05-31T08:00","s":"Tension déclenchement m1","v":30.5},
      {"t":"2022-06-04T18:00","s":"Tension déclenchement m1","v":27.6},
      {"t":"2022-06-07T22:00","s":"Tension déclenchement m1","v":26.8},
      {"t":"2022-06-14T05:00","s":"Tension déclenchement m1","v":26.8},
      {"t":"2022-07-13T16:00","s":"Tension déclenchement m1","v":27.2},
      {"t":"2022-08-18T01:00","s":"Tension déclenchement m1","v":26.4},
      {"t":"2022-09-01T05:00","s":"Tension déclenchement m1","v":26.4},
      {"t":"2022-09-11T20:00","s":"Tension déclenchement m1","v":26.8},
      {"t":"2022-09-15T09:00","s":"Tension déclenchement m1","v":27.6},
      {"t":"2022-09-18T22:00","s":"Tension déclenchement m1","v":28.9},
      {"t":"2022-09-22T11:00","s":"Tension déclenchement m1","v":30.5},
      {"t":"2022-09-26T00:00","s":"Tension déclenchement m1","v":32.2},
      {"t":"2022-09-29T13:00","s":"Tension déclenchement m1","v":34.2},
      {"t":"2022-10-03T02:00","s":"Tension déclenchement m1","v":36.3},
      {"t":"2022-10-06T15:00","s":"Tension déclenchement m1","v":37.5},
      {"t":"2022-10-10T04:00","s":"Tension déclenchement m1","v":38},
      {"t":"2022-10-13T17:00","s":"Tension déclenchement m1","v":37.5},
      {"t":"2022-10-29T07:00","s":"Tension déclenchement m1","v":37.3},

      {"t":"2022-04-09T10:00","s":"Tension déclenchement m2","v":22.3},
      {"t":"2022-04-18T13:00","s":"Tension déclenchement m2","v":23.9},
      {"t":"2022-04-24T20:00","s":"Tension déclenchement m2","v":26.4},
      {"t":"2022-05-01T03:00","s":"Tension déclenchement m2","v":28.9},
      {"t":"2022-05-07T10:00","s":"Tension déclenchement m2","v":31.3},
      {"t":"2022-05-13T17:00","s":"Tension déclenchement m2","v":32.2},
      {"t":"2022-05-20T00:00","s":"Tension déclenchement m2","v":32.2},
      {"t":"2022-05-26T07:00","s":"Tension déclenchement m2","v":29.7},
      {"t":"2022-05-31T08:00","s":"Tension déclenchement m2","v":26.5},
      {"t":"2022-06-04T18:00","s":"Tension déclenchement m2","v":23.1},
      {"t":"2022-06-07T22:00","s":"Tension déclenchement m2","v":21.8},
      {"t":"2022-06-11T01:00","s":"Tension déclenchement m2","v":21.4},
      {"t":"2022-06-14T05:00","s":"Tension déclenchement m2","v":22.3},
      {"t":"2022-06-20T12:00","s":"Tension déclenchement m2","v":25.6},
      {"t":"2022-06-26T19:00","s":"Tension déclenchement m2","v":29.7},
      {"t":"2022-07-03T02:00","s":"Tension déclenchement m2","v":32.2},
      {"t":"2022-07-09T09:00","s":"Tension déclenchement m2","v":33.4},
      {"t":"2022-07-13T16:00","s":"Tension déclenchement m2","v":33.8},
      {"t":"2022-07-27T19:00","s":"Tension déclenchement m2","v":33.8},
      {"t":"2022-08-10T23:00","s":"Tension déclenchement m2","v":32.6},
      {"t":"2022-08-25T03:00","s":"Tension déclenchement m2","v":31.8},
      {"t":"2022-09-08T07:00","s":"Tension déclenchement m2","v":31.8},
      {"t":"2022-09-15T09:00","s":"Tension déclenchement m2","v":32.6},
      {"t":"2022-09-18T22:00","s":"Tension déclenchement m2","v":33.8},
      {"t":"2022-09-22T11:00","s":"Tension déclenchement m2","v":35.5},
      {"t":"2022-09-26T00:00","s":"Tension déclenchement m2","v":38},
      {"t":"2022-09-29T13:00","s":"Tension déclenchement m2","v":40},
      {"t":"2022-10-03T02:00","s":"Tension déclenchement m2","v":41.7},
      {"t":"2022-10-06T15:00","s":"Tension déclenchement m2","v":42.9},
      {"t":"2022-10-10T04:00","s":"Tension déclenchement m2","v":42.9},
      {"t":"2022-10-13T17:00","s":"Tension déclenchement m2","v":42.5},
      {"t":"2022-10-29T07:00","s":"Tension déclenchement m2","v":42.2}
    ],
    "irr": [
      {"t":"2022-04-09T16:00","v":306},
      {"t":"2022-04-11T15:00","v":625},
      {"t":"2022-04-14T17:00","v":75},
      {"t":"2022-04-15T14:00","v":196},
      {"t":"2022-04-17T01:00","v":196},
      {"t":"2022-04-18T19:00","v":282},
      {"t":"2022-04-19T15:00","v":282},
      {"t":"2022-06-07T19:00","v":306},
      {"t":"2022-06-08T19:00","v":282},
      {"t":"2022-06-17T19:00","v":196},
      {"t":"2022-06-20T18:00","v":257},
      {"t":"2022-06-22T06:00","v":160},
      {"t":"2022-06-23T20:00","v":122},
      {"t":"2022-06-28T23:00","v":60},
      {"t":"2022-06-29T17:00","v":75},
      {"t":"2022-07-10T14:00","v":306},
      {"t":"2022-07-13T01:00","v":196},
      {"t":"2022-07-13T19:00","v":318},
      {"t":"2022-07-15T10:00","v":184},
      {"t":"2022-07-15T21:00","v":306},
      {"t":"2022-07-25T06:00","v":3467},
      {"t":"2022-07-25T09:00","v":5120},
      {"t":"2022-07-25T12:00","v":3320},
      {"t":"2022-08-22T18:00","v":220},
      {"t":"2022-08-23T04:00","v":1790},
      {"t":"2022-09-03T18:00","v":1790},
      {"t":"2022-09-10T10:00","v":1086},
      {"t":"2022-09-10T22:00","v":282},
      {"t":"2022-09-18T18:00","v":1568}
    ]
  },
  "vconcat": [
    {
      "width": 1701,
      "height": 433,
      "layer": [
        {
          "data": {"values": [
            {"zone": "Excès", "lo": 0, "hi": 8},
            {"zone": "C.C", "lo": 8, "hi": 15},
            {"zone": "Confort", "lo": 15, "hi": 40},
            {"zone": "Stress", "lo": 40, "hi": 100}
          ]},
          "mark": {"type": "rect", "fillOpacity": 0.33},
          "encoding": {
            "x": {"datum": {"year": 2022, "month": 4, "date": 7, "hours": 7, "minutes": 26}, "type": "temporal",
              "scale": {"domain": [{"year": 2022, "month": 4, "date": 7, "hours": 7, "minutes": 26}, {"year": 2022, "month": 11, "date": 3, "hours": 4}], "nice": false},
              "axis": {"title": null, "labels": false, "tickCount": {"interval": "day", "step": 1}, "tickSize": 3, "tickColor": "#8d9ab3", "domainColor": "#ccd6eb", "grid": true,
                "gridColor": {"condition": {"test": "date(datum.value) == 1", "value": "#d6d6d6"}, "value": "#ededed"},
                "gridWidth": {"condition": {"test": "date(datum.value) == 1", "value": 2}, "value": 1}}},
            "x2": {"datum": {"year": 2022, "month": 11, "date": 3, "hours": 4}},
            "y": {"field": "lo", "type": "quantitative", "scale": {"domain": [0, 107.2], "nice": false, "zero": false},
              "axis": {"orient": "right", "values": [0, 25, 50, 75, 100], "title": "Tension (en cbar ou kPa)", "titleAngle": 90, "titlePadding": 22, "titleY": 181, "labelPadding": 28, "ticks": false, "tickSize": 0, "domain": false, "grid": true, "gridColor": "#e3e3e3", "gridWidth": 1.5}},
            "y2": {"field": "hi"},
            "fill": {"field": "zone", "type": "nominal", "legend": null,
              "scale": {"domain": ["Excès", "C.C", "Confort", "Stress"], "range": ["#f0828c", "#fadc96", "#aaebc8", "#f8b0b0"]}}
          }
        },
        {
          "data": {"name": "med"},
          "mark": {"type": "line", "strokeWidth": 3},
          "encoding": {
            "x": {"field": "t", "type": "temporal"},
            "y": {"field": "v", "type": "quantitative"},
            "color": {"field": "s", "type": "nominal", "title": null,
              "scale": {"domain": ["Médiane à 25cm", "Médiane à 50cm", "Médiane à 75cm", "Médiane à 100cm", "Tension déclenchement m1", "Tension déclenchement m2"],
                "range": ["#1414f0", "#f0168c", "#ff8c1e", "#2aa82a", "#1a1ae6", "#e8208c"]},
              "legend": {"orient": "none", "legendX": 2027, "legendY": 50, "labelFontSize": 22, "labelFont": "Roboto", "labelColor": "#333333", "labelLimit": 400, "symbolType": "M0,0H16", "symbolSize": 49, "symbolStrokeWidth": 5, "labelOffset": 51, "rowPadding": 8}},
            "strokeDash": {"field": "s", "type": "nominal", "title": null,
              "scale": {"domain": ["Médiane à 25cm", "Médiane à 50cm", "Médiane à 75cm", "Médiane à 100cm", "Tension déclenchement m1", "Tension déclenchement m2"],
                "range": [[1, 0], [1, 0], [1, 0], [1, 0], [22, 10], [22, 10]]},
              "legend": {"orient": "none", "legendX": 2027, "legendY": 50, "labelFontSize": 22, "labelFont": "Roboto", "labelColor": "#333333", "labelLimit": 400, "symbolType": "M0,0H16", "symbolSize": 49, "symbolStrokeWidth": 5, "labelOffset": 51, "rowPadding": 8}}
          }
        },
        {
          "data": {"name": "decl"},
          "mark": {"type": "line", "strokeWidth": 3.5, "interpolate": "monotone"},
          "encoding": {
            "x": {"field": "t", "type": "temporal"},
            "y": {"field": "v", "type": "quantitative"},
            "color": {"field": "s", "type": "nominal", "title": null},
            "strokeDash": {"field": "s", "type": "nominal", "title": null}
          }
        },
        {
          "data": {"values": [{"t": "2022-05-14T02:00", "v": 77.5}, {"t": "2022-11-01T02:00", "v": 74.9}]},
          "mark": {"type": "line", "color": "#000000", "strokeWidth": 5, "strokeCap": "butt"},
          "encoding": {
            "x": {"field": "t", "type": "temporal"},
            "y": {"field": "v", "type": "quantitative"}
          }
        },
        {
          "data": {"values": [{}]},
          "mark": {"type": "rect", "fill": "#fbfbfb", "opacity": 1},
          "encoding": {
            "x": {"datum": {"year": 2022, "month": 4, "date": 5, "hours": 23}, "type": "temporal"},
            "x2": {"datum": {"year": 2022, "month": 5, "date": 14, "hours": 11}},
            "y": {"datum": 63.1, "type": "quantitative"},
            "y2": {"datum": 95.8}
          }
        },
        {
          "data": {"values": [
            {"txt": "ol limoneux :", "v": 88.6},
            {"txt": "imite RFU /", "v": 79.7},
            {"txt": "ssèchement = 75 cbar", "v": 69.8}
          ]},
          "mark": {"type": "text", "align": "left", "baseline": "middle", "font": "Liberation Sans", "fontWeight": "bold", "fontSize": 27, "color": "#000000"},
          "encoding": {
            "x": {"datum": {"year": 2022, "month": 4, "date": 5, "hours": 23}, "type": "temporal"},
            "y": {"field": "v", "type": "quantitative"},
            "text": {"field": "txt"}
          }
        },
        {
          "data": {"values": [{}]},
          "mark": {"type": "rule", "color": "#000000", "strokeWidth": 2},
          "encoding": {
            "x": {"datum": {"year": 2022, "month": 4, "date": 5, "hours": 23}, "type": "temporal"},
            "x2": {"datum": {"year": 2022, "month": 4, "date": 26, "hours": 8}},
            "y": {"datum": 84.7, "type": "quantitative"}
          }
        },
        {
          "data": {"values": [
            {"lab": "Confort", "v": 26.2},
            {"lab": "C.C", "v": 10.4},
            {"lab": "Excès", "v": 2.5}
          ]},
          "mark": {"type": "point", "filled": true, "fill": "#ffffff", "fillOpacity": 0.8, "stroke": "#c4c4c4", "strokeWidth": 1.5, "size": 4, "opacity": 1},
          "encoding": {
            "x": {"datum": {"year": 2022, "month": 4, "date": 9, "hours": 10}, "type": "temporal"},
            "y": {"field": "v", "type": "quantitative"},
            "shape": {"field": "lab", "type": "nominal", "legend": null,
              "scale": {"domain": ["Confort", "C.C", "Excès"],
                "range": ["M4,-16H90Q94,-16 94,-12V12Q94,16 90,16H4Q0,16 0,12V-12Q0,-16 4,-16Z", "M4,-15H50Q54,-15 54,-11V11Q54,15 50,15H4Q0,15 0,11V-11Q0,-15 4,-15Z", "M4,-15H70Q74,-15 74,-11V11Q74,15 70,15H4Q0,15 0,11V-11Q0,-15 4,-15Z"]}}
          }
        },
        {
          "data": {"values": [
            {"lab": "Confort", "v": 26.2},
            {"lab": "C.C", "v": 10.4},
            {"lab": "Excès", "v": 2.5}
          ]},
          "mark": {"type": "text", "align": "left", "baseline": "middle", "dx": 10, "font": "Roboto", "fontSize": 20, "color": "#666666"},
          "encoding": {
            "x": {"datum": {"year": 2022, "month": 4, "date": 9, "hours": 10}, "type": "temporal"},
            "y": {"field": "v", "type": "quantitative"},
            "text": {"field": "lab"}
          }
        }
      ]
    },
    {
      "width": 1701,
      "height": 450,
      "layer": [
        {
          "data": {"name": "irr"},
          "mark": {"type": "bar", "size": 13.5, "color": "#22427f"},
          "encoding": {
            "x": {"field": "t", "type": "temporal",
              "scale": {"domain": [{"year": 2022, "month": 4, "date": 7, "hours": 7, "minutes": 26}, {"year": 2022, "month": 11, "date": 3, "hours": 4}], "nice": false},
              "axis": {"title": null, "tickCount": {"interval": "day", "step": 1}, "labelOverlap": false, "labelFlush": false, "labelBound": false,
                "labelExpr": "date(datum.value) == 1 ? (['janvier','février','mars','avril','mai','juin','juillet','août','septembre','octobre','novembre','décembre'][month(datum.value)] + ' ' + year(datum.value)) : ''",
                "labelPadding": 9, "tickSize": 3, "tickColor": "#8d9ab3", "domainColor": "#ccd6eb", "grid": true,
                "gridColor": {"condition": {"test": "date(datum.value) == 1", "value": "#d6d6d6"}, "value": "#ededed"},
                "gridWidth": {"condition": {"test": "date(datum.value) == 1", "value": 2}, "value": 1}}},
            "y": {"field": "v", "type": "quantitative", "scale": {"domain": [0, 5500], "nice": false},
              "axis": {"orient": "right", "values": [0, 1200, 2400, 3600, 4800], "title": "Irrigation (litres)", "titleAngle": 90, "titlePadding": 22, "titleY": 204,
                "labelExpr": "datum.value == 0 ? '0' : replace(format(datum.value / 1000, '.1f'), '.', ',') + 'k'",
                "labelPadding": 28, "ticks": false, "tickSize": 0, "domain": false, "grid": true, "gridColor": "#e3e3e3", "gridWidth": 1.5}}
          }
        },
        {
          "data": {"values": [{}]},
          "mark": {"type": "point", "shape": "circle", "filled": true, "color": "#8cb32e", "size": 12100, "opacity": 1},
          "encoding": {
            "x": {"datum": {"year": 2023, "month": 1, "date": 18, "hours": 16}, "type": "temporal"},
            "y": {"datum": 1063, "type": "quantitative"}
          }
        },
        {
          "data": {"values": [{}]},
          "mark": {"type": "text", "text": "✿", "font": "DejaVu Sans", "fontSize": 90, "color": "#ffffff", "align": "center", "baseline": "middle"},
          "encoding": {
            "x": {"datum": {"year": 2023, "month": 1, "date": 18, "hours": 16}, "type": "temporal"},
            "y": {"datum": 1063, "type": "quantitative"}
          }
        },
        {
          "data": {"values": [{}]},
          "mark": {"type": "text", "text": "•", "font": "DejaVu Sans", "fontSize": 28, "color": "#8cb32e", "align": "center", "baseline": "middle"},
          "encoding": {
            "x": {"datum": {"year": 2023, "month": 1, "date": 5, "hours": 2}, "type": "temporal"},
            "y": {"datum": 122, "type": "quantitative"}
          }
        },
        {
          "data": {"values": [{}]},
          "mark": {"type": "text", "text": "Bio Ariège-Garonne", "font": "Roboto", "fontWeight": "bold", "fontSize": 24, "color": "#555555", "align": "left", "baseline": "middle", "limit": 148, "ellipsis": "\u200b"},
          "encoding": {
            "x": {"datum": {"year": 2023, "month": 1, "date": 6, "hours": 19}, "type": "temporal"},
            "y": {"datum": 122, "type": "quantitative"}
          }
        },
        {
          "data": {"values": [{}]},
          "mark": {"type": "text", "text": "Fusion du CIVAM Bio 09 et d'ERABLES 31", "font": "Roboto", "fontSize": 14, "color": "#666666", "align": "left", "baseline": "middle", "limit": 150, "ellipsis": "\u200b"},
          "encoding": {
            "x": {"datum": {"year": 2023, "month": 1, "date": 6, "hours": 10}, "type": "temporal"},
            "y": {"datum": -147, "type": "quantitative"}
          }
        }
      ]
    }
  ]
}
